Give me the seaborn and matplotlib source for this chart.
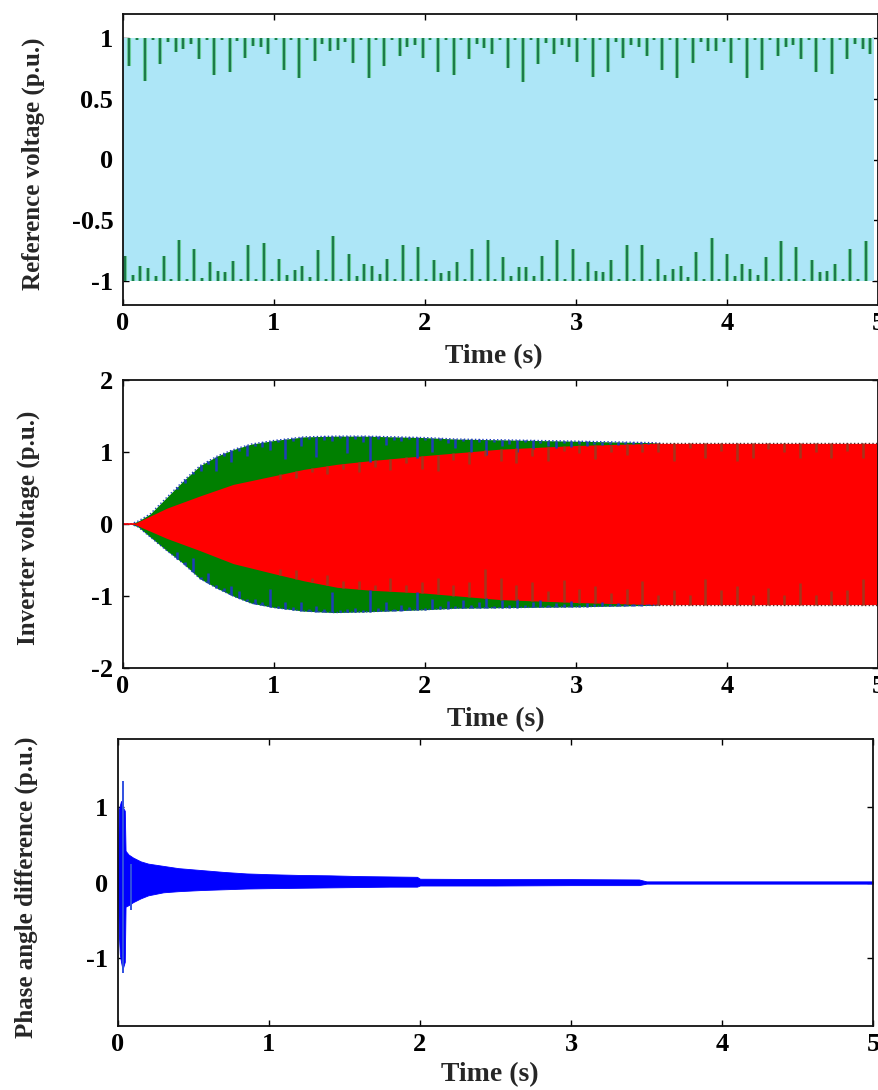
import numpy as np
import pandas as pd
import matplotlib
matplotlib.use("Agg")
import matplotlib.pyplot as plt
import seaborn as sns

# ---------------- data ----------------
time_ticks = [0, 1, 2, 3, 4, 5]
time_labels = ["0", "1", "2", "3", "4", "5"]

# Reference voltage (p.u.): the dense 50 Hz wave fills the band -1..+1;
# aliasing leaves spikes hanging from +1 and rising from -1 (depth in p.u.)
ref_band_t = [0.0, 4.975]
ref_top_span = [0.042, 4.95]
ref_top_depth = [
    0.226, 0.012, 0.350, 0.012, 0.215, 0.033, 0.116, 0.088, 0.050, 0.174,
    0.012, 0.300, 0.012, 0.275, 0.020, 0.160, 0.063, 0.074, 0.130, 0.012,
    0.260, 0.012, 0.330, 0.012, 0.190, 0.050, 0.105, 0.100, 0.033, 0.207,
    0.012, 0.330, 0.012,
    0.226, 0.012, 0.143, 0.069, 0.055, 0.160, 0.012, 0.275, 0.012, 0.300,
    0.012, 0.174, 0.047, 0.083, 0.130, 0.012, 0.248, 0.012, 0.358, 0.012,
    0.215, 0.041, 0.130, 0.055, 0.074, 0.193, 0.012, 0.317, 0.012, 0.275,
    0.028, 0.160,
    0.055, 0.069, 0.143, 0.012, 0.260, 0.012, 0.330, 0.012, 0.200, 0.033,
    0.105, 0.105, 0.028, 0.200, 0.012, 0.330, 0.012, 0.260, 0.012, 0.143,
    0.069, 0.055, 0.174, 0.012, 0.275, 0.012, 0.295, 0.012, 0.174, 0.050,
    0.088, 0.130,
]
ref_bot_span = [0.013, 4.92]
ref_bot_height = [
    0.207, 0.050, 0.118, 0.105, 0.036, 0.207, 0.012, 0.339, 0.012, 0.264,
    0.022, 0.152, 0.083, 0.069, 0.165, 0.012, 0.292, 0.012, 0.311, 0.012,
    0.179, 0.050, 0.091, 0.118, 0.028, 0.250, 0.012, 0.366, 0.012, 0.223,
    0.036, 0.138, 0.124,
    0.055, 0.182, 0.012, 0.298, 0.012, 0.278, 0.012, 0.168, 0.063, 0.083,
    0.152, 0.012, 0.264, 0.012, 0.339, 0.012, 0.196, 0.041, 0.110, 0.110,
    0.041, 0.207, 0.012, 0.339, 0.012, 0.264, 0.012, 0.152, 0.083, 0.069,
    0.168, 0.012, 0.292, 0.012,
    0.292, 0.012, 0.182, 0.050, 0.096, 0.124, 0.028, 0.237, 0.012, 0.353,
    0.012, 0.223, 0.036, 0.138, 0.096, 0.050, 0.193, 0.012, 0.325, 0.012,
    0.278, 0.012, 0.168, 0.069, 0.083, 0.138, 0.012, 0.264, 0.012, 0.325,
]

# Inverter voltage (p.u.): envelopes of the two inverter outputs
inv_green_t = [0.0, 0.05, 0.10, 0.18, 0.29, 0.40, 0.51, 0.63, 0.74, 0.85,
               1.00, 1.20, 1.40, 1.60, 2.00, 2.20, 3.00, 3.50, 3.56]
inv_green_hi = [0.0, 0.0, 0.04, 0.14, 0.37, 0.60, 0.81, 0.95, 1.04, 1.11,
                1.16, 1.21, 1.22, 1.22, 1.20, 1.18, 1.15, 1.13, 1.12]
inv_green_lo = [0.0, 0.0, -0.04, -0.18, -0.37, -0.55, -0.76, -0.90, -1.01, -1.10,
                -1.16, -1.21, -1.23, -1.22, -1.19, -1.17, -1.15, -1.13, -1.12]

inv_red_t = [0.0, 0.07, 0.29, 0.51, 0.73, 1.00, 1.20, 1.42, 1.64, 2.00,
             2.50, 3.00, 3.50, 5.00]
inv_red_hi = [0.0, 0.0, 0.22, 0.39, 0.55, 0.67, 0.76, 0.83, 0.88, 0.95,
              1.04, 1.09, 1.12, 1.12]
inv_red_lo = [0.0, 0.0, -0.20, -0.37, -0.55, -0.69, -0.79, -0.88, -0.92, -0.96,
              -1.05, -1.09, -1.12, -1.12]

# aliasing spikes on the outer (green) envelope, drawn in blue
inv_green_spike_span = [0.36, 3.48]
inv_green_spike_top = [
    0.03, 0.05, 0.03, 0.08, 0.04, 0.20, 0.04, 0.16, 0.05, 0.14,
    0.04, 0.06, 0.12, 0.03, 0.28, 0.04, 0.12, 0.03, 0.28, 0.05,
    0.06, 0.03, 0.24, 0.04, 0.08, 0.36, 0.03, 0.12, 0.04, 0.05,
    0.03, 0.28, 0.04, 0.20, 0.03, 0.06, 0.12, 0.03, 0.18, 0.04,
    0.22, 0.03, 0.08, 0.05, 0.16, 0.03, 0.12, 0.04, 0.08, 0.10,
    0.03, 0.08, 0.04, 0.06, 0.03, 0.05, 0.03, 0.04, 0.02, 0.03,
    0.02, 0.02,
]
inv_green_spike_bot = [
    0.10, 0.04, 0.20, 0.03, 0.15, 0.04, 0.05, 0.12, 0.10, 0.03,
    0.06, 0.04, 0.25, 0.03, 0.10, 0.04, 0.12, 0.03, 0.08, 0.04,
    0.28, 0.03, 0.05, 0.06, 0.03, 0.30, 0.04, 0.12, 0.03, 0.08,
    0.04, 0.25, 0.03, 0.15, 0.04, 0.10, 0.03, 0.12, 0.04, 0.08,
    0.14, 0.03, 0.10, 0.04, 0.12, 0.03, 0.08, 0.10, 0.03, 0.06,
    0.04, 0.08, 0.03, 0.05, 0.04, 0.06, 0.03, 0.04, 0.02, 0.03,
    0.02, 0.02,
]
# aliasing spikes on the inner (red) envelope
inv_red_spike_span = [1.04, 4.90]
inv_red_spike_top = [
    0.06, 0.10, 0.05, 0.12, 0.08, 0.14, 0.10, 0.15, 0.08, 0.18,
    0.23, 0.10, 0.17, 0.07, 0.17, 0.20, 0.12, 0.20, 0.07, 0.10,
    0.20, 0.10, 0.15, 0.12, 0.12, 0.25, 0.06, 0.20, 0.10, 0.25,
    0.20, 0.08, 0.12, 0.20, 0.12, 0.20, 0.10, 0.20,
]
inv_red_spike_bot = [
    0.08, 0.12, 0.06, 0.15, 0.10, 0.12, 0.08, 0.18, 0.10, 0.15,
    0.23, 0.14, 0.21, 0.40, 0.30, 0.21, 0.26, 0.14, 0.30, 0.19,
    0.23, 0.14, 0.21, 0.33, 0.14, 0.21, 0.14, 0.35, 0.21, 0.26,
    0.14, 0.23, 0.14, 0.30, 0.14, 0.19, 0.21, 0.35,
]

# Phase angle difference (p.u.): envelope of the decaying oscillation
phase_t = [0.0, 0.005, 0.012, 0.02, 0.03, 0.045, 0.05, 0.07, 0.10, 0.15,
           0.20, 0.30, 0.40, 0.55, 0.70, 0.85, 1.00, 1.20, 1.40, 1.60,
           1.80, 1.98, 2.00, 2.50, 3.00, 3.45, 3.50, 4.00, 4.50, 5.00]
phase_hi = [0.0, 0.95, 1.02, 1.08, 1.00, 0.95, 0.42, 0.37, 0.33, 0.28,
            0.25, 0.22, 0.19, 0.165, 0.14, 0.12, 0.11, 0.10, 0.095, 0.085,
            0.08, 0.075, 0.05, 0.045, 0.045, 0.04, 0.015, 0.015, 0.015, 0.015]
phase_lo = [0.0, -0.65, -0.95, -1.05, -1.15, -1.05, -0.32, -0.30, -0.26, -0.21,
            -0.17, -0.13, -0.115, -0.10, -0.09, -0.08, -0.075, -0.07, -0.065, -0.06,
            -0.055, -0.055, -0.04, -0.04, -0.035, -0.035, -0.015, -0.015, -0.015, -0.015]
phase_spike_t = [0.033, 0.088]
phase_spike_hi = [1.35, 0.25]
phase_spike_lo = [-1.20, -0.37]

# ---------------- style ----------------
sns.set_theme(style="ticks")
plt.rcParams["font.family"] = ["Liberation Serif", "DejaVu Serif"]
plt.rcParams["font.weight"] = "bold"
plt.rcParams["axes.labelweight"] = "bold"
plt.rcParams["axes.unicode_minus"] = False

W, H = 879, 1090
fig = plt.figure(figsize=(W / 100, H / 100), dpi=100)


def add_axes(left, top, right, bottom):
    return fig.add_axes([left / W, 1 - bottom / H, (right - left) / W, (bottom - top) / H])


def style_axes(ax, ylim, yticks, ylabels, ylabel, label_x, label_y):
    ax.set_xlim(0, 5)
    ax.set_ylim(*ylim)
    ax.set_xticks(time_ticks)
    ax.set_xticklabels(time_labels)
    ax.set_yticks(yticks)
    ax.set_yticklabels(ylabels)
    ax.tick_params(direction="in", top=True, right=True, length=4.5, width=1.0,
                   labelsize=19, pad=5, colors="black")
    ax.tick_params(axis="y", pad=7)
    for s in ax.spines.values():
        s.set_visible(True)
        s.set_linewidth(1.3)
        s.set_color("#111111")
    ax.set_xlabel("Time (s)", fontsize=20, fontweight="bold")
    ax.set_ylabel(ylabel, fontsize=18, fontweight="bold")
    ax.yaxis.set_label_coords(label_x, label_y)
    ax.set_facecolor("white")


def place_xlabel(ax, center_px, top_px, ax_left, ax_top, ax_bottom):
    # put the x-axis label so its box top sits at a given figure row
    h = ax_bottom - ax_top
    ax.xaxis.set_label_coords((center_px - ax_left) / 755, -(top_px - ax_bottom) / h)
    ax.xaxis.label.set_va("top")


# ---- Reference voltage ----
ax1 = add_axes(123, 14, 878, 305)
ax1.fill_between(ref_band_t, -1, 1, color="#ADE6F7", lw=0)
top_t = np.linspace(ref_top_span[0], ref_top_span[1], len(ref_top_depth))
bot_t = np.linspace(ref_bot_span[0], ref_bot_span[1], len(ref_bot_height))
top_tip = 1 - np.array(ref_top_depth)
bot_tip = -1 + np.array(ref_bot_height)
for lw, col in [(3.0, "#72D6A4"), (1.6, "#1E7A4B")]:
    ax1.vlines(top_t, top_tip, 1.0, color=col, lw=lw)
    ax1.vlines(bot_t, -1.0, bot_tip, color=col, lw=lw)
style_axes(ax1, (-1.2, 1.2), [-1, -0.5, 0, 0.5, 1], ["-1", "-0.5", "0", "0.5", "1"],
           "Reference voltage (p.u.)", -0.103, 0.485)
place_xlabel(ax1, 494, 344, 123, 14, 305)

# ---- Inverter voltage ----
ax2 = add_axes(123, 380, 878, 668)
ax2.fill_between(inv_green_t, inv_green_lo, inv_green_hi, color="#007F00", lw=0)
sns.lineplot(x=inv_green_t, y=inv_green_hi, ax=ax2, color="#2040C0", lw=1.0,
             linestyle=":", estimator=None, sort=False)
sns.lineplot(x=inv_green_t, y=inv_green_lo, ax=ax2, color="#2040C0", lw=1.0,
             linestyle=":", estimator=None, sort=False)
gs_t = np.linspace(inv_green_spike_span[0], inv_green_spike_span[1], len(inv_green_spike_top))
g_hi = np.interp(gs_t, inv_green_t, inv_green_hi)
g_lo = np.interp(gs_t, inv_green_t, inv_green_lo)
ax2.vlines(gs_t, g_hi - np.array(inv_green_spike_top), g_hi, color="#1F3DB8", lw=1.8)
ax2.vlines(gs_t, g_lo, g_lo + np.array(inv_green_spike_bot), color="#1F3DB8", lw=1.8)

ax2.fill_between(inv_red_t, inv_red_lo, inv_red_hi, color="#FF0000", lw=0)
sns.lineplot(x=[0.0, 0.08], y=[0.0, 0.0], ax=ax2, color="#FF0000", lw=1.2)
rs_t = np.linspace(inv_red_spike_span[0], inv_red_spike_span[1], len(inv_red_spike_top))
r_hi = np.interp(rs_t, inv_red_t, inv_red_hi)
r_lo = np.interp(rs_t, inv_red_t, inv_red_lo)
ax2.vlines(rs_t, r_hi - np.array(inv_red_spike_top), r_hi, color="#A3361C", lw=1.8)
ax2.vlines(rs_t, r_lo, r_lo + np.array(inv_red_spike_bot), color="#A3361C", lw=1.8)
tail = [i for i, t in enumerate(inv_red_t) if t >= 3.5]
sns.lineplot(x=[inv_red_t[i] for i in tail], y=[inv_red_hi[i] for i in tail], ax=ax2,
             color="#5A2A2A", lw=1.0, linestyle=":", estimator=None)
sns.lineplot(x=[inv_red_t[i] for i in tail], y=[inv_red_lo[i] for i in tail], ax=ax2,
             color="#5A2A2A", lw=1.0, linestyle=":", estimator=None)
style_axes(ax2, (-2, 2), [-2, -1, 0, 1, 2], ["-2", "-1", "0", "1", "2"],
           "Inverter voltage (p.u.)", -0.11, 0.488)
place_xlabel(ax2, 496, 707, 123, 380, 668)

# ---- Phase angle difference ----
ax3 = add_axes(118, 739, 873, 1026)
ax3.fill_between(phase_t, phase_lo, phase_hi, color="#0000FF", lw=0.6, edgecolor="#0000FF")
ax3.vlines(phase_spike_t, phase_spike_lo, phase_spike_hi, color="#3050E0", lw=1.4)
style_axes(ax3, (-1.9, 1.9), [-1, 0, 1], ["-1", "0", "1"],
           "Phase angle difference (p.u.)", -0.106, 0.483)
place_xlabel(ax3, 490, 1062, 118, 739, 1026)

fig.savefig("out.png", dpi=100)
